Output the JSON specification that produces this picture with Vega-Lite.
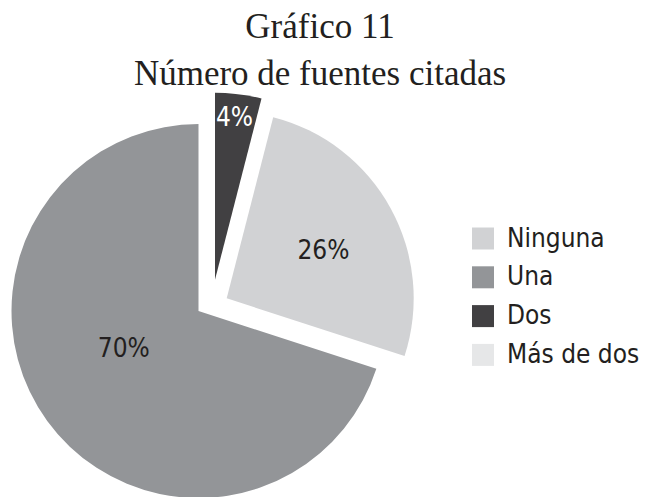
{
  "$schema": "https://vega.github.io/schema/vega-lite/v6.json",
  "autosize": "none",
  "width": 397,
  "height": 372,
  "padding": {"left": 0, "top": 125, "right": 250, "bottom": 0},
  "background": "white",
  "title": {
    "text": ["Gráfico 11", "Número de fuentes citadas"],
    "font": "Liberation Serif",
    "fontSize": 35,
    "fontWeight": "normal",
    "color": "#231f20",
    "lineHeight": 47,
    "anchor": "middle",
    "frame": "bounds",
    "baseline": "alphabetic",
    "offset": -27
  },
  "data": {
    "values": [
      {"categoria": "Ninguna", "pct": 0.26, "orden": 1},
      {"categoria": "Una", "pct": 0.70, "orden": 2},
      {"categoria": "Dos", "pct": 0.04, "orden": 3},
      {"categoria": "Más de dos", "pct": 0.0, "orden": 4}
    ]
  },
  "encoding": {
    "theta": {"field": "pct", "type": "quantitative", "stack": true, "scale": {"range": [0.2513, 6.5345]}},
    "order": {"field": "orden", "type": "quantitative"}
  },
  "layer": [
    {
      "mark": {"type": "arc", "radius": 187},
      "encoding": {
        "color": {
          "field": "categoria", "type": "nominal",
          "scale": {"domain": ["Ninguna", "Una", "Dos", "Más de dos"], "range": ["#d1d2d4", "#939598", "#414042", "#e6e7e8"]},
          "legend": {
            "orient": "none", "legendX": 470, "legendY": 100.5, "title": null,
            "symbolType": "square", "symbolSize": 484, "symbolStrokeWidth": 0, "symbolOpacity": 1,
            "labelFont": "DejaVu Sans Condensed, sans-serif", "labelFontSize": 26, "labelColor": "#231f20",
            "labelOffset": 11, "rowPadding": 12.8, "padding": 0
          }
        },
        "opacity": {"condition": {"test": "datum.categoria === 'Una'", "value": 1}, "value": 0}
      }
    },
    {
      "mark": {"type": "arc", "radius": 187, "xOffset": 28.2, "yOffset": -12.7},
      "encoding": {
        "color": {"field": "categoria", "type": "nominal"},
        "opacity": {"condition": {"test": "datum.categoria === 'Ninguna'", "value": 1}, "value": 0}
      }
    },
    {
      "mark": {"type": "arc", "radius": 187, "xOffset": 16.5, "yOffset": -31.3},
      "encoding": {
        "color": {"field": "categoria", "type": "nominal"},
        "opacity": {"condition": {"test": "datum.categoria === 'Dos'", "value": 1}, "value": 0}
      }
    },
    {
      "mark": {"type": "text", "radius": 83.6, "font": "DejaVu Sans Condensed, sans-serif", "fontSize": 26, "dx": -7, "dy": -11},
      "encoding": {
        "text": {"field": "pct", "type": "quantitative", "format": ".0%"},
        "detail": {"field": "categoria", "type": "nominal"},
        "color": {"value": "#231f20"},
        "opacity": {"condition": {"test": "datum.categoria === 'Una'", "value": 1}, "value": 0}
      }
    },
    {
      "mark": {"type": "text", "radius": 107, "font": "DejaVu Sans Condensed, sans-serif", "fontSize": 26, "xOffset": 28.2, "yOffset": -12.7, "dx": 3, "dy": 4},
      "encoding": {
        "text": {"field": "pct", "type": "quantitative", "format": ".0%"},
        "detail": {"field": "categoria", "type": "nominal"},
        "color": {"value": "#231f20"},
        "opacity": {"condition": {"test": "datum.categoria === 'Ninguna'", "value": 1}, "value": 0}
      }
    },
    {
      "mark": {"type": "text", "radius": 163, "font": "DejaVu Sans Condensed, sans-serif", "fontSize": 26, "xOffset": 16.5, "yOffset": -31.3, "dx": -1},
      "encoding": {
        "text": {"field": "pct", "type": "quantitative", "format": ".0%"},
        "detail": {"field": "categoria", "type": "nominal"},
        "color": {"value": "#ffffff"},
        "opacity": {"condition": {"test": "datum.categoria === 'Dos'", "value": 1}, "value": 0}
      }
    }
  ],
  "config": {"view": {"stroke": null}}
}
